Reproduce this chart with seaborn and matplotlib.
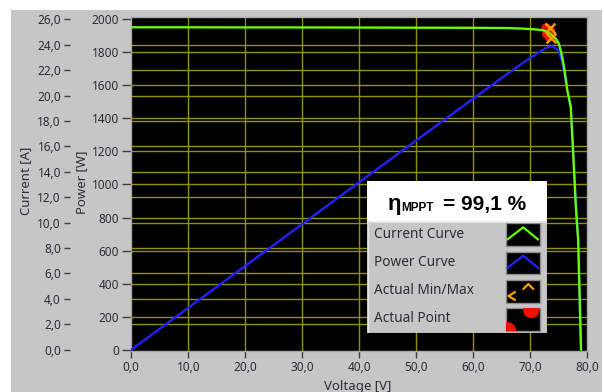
import matplotlib
matplotlib.use("Agg")
import matplotlib.pyplot as plt
import seaborn as sns
from matplotlib.patches import Rectangle, Circle

# ---------------- data ----------------
voltage = [0, 10, 20, 30, 40, 50, 60, 66, 68.5, 70.5, 72.2, 73.0, 73.75, 74.4,
           74.9, 75.3, 75.7, 76.1, 76.5, 77.1, 77.4, 77.7, 78.0, 78.4, 78.55, 78.7, 78.9]
current = [25.37, 25.37, 25.36, 25.36, 25.35, 25.34, 25.33, 25.31, 25.27, 25.22, 25.14,
           25.0, 24.77, 24.5, 24.2, 23.6, 22.8, 21.7, 20.4, 19.1, 16.5, 13.9, 11.2, 8.6,
           6.0, 3.4, 0.0]
power = [0, 254, 507, 761, 1014, 1267, 1520, 1670, 1731, 1778, 1815, 1830, 1836, 1826,
         1813, 1777, 1726, 1651, 1561, 1473, 1277, 1080, 874, 674, 471, 268, 0]

minmax_v = [73.5, 73.6]
minmax_i = [25.34, 24.53]
point_v = [72.8, 73.2, 73.5, 73.3, 72.9]
point_i = [25.3, 24.95, 25.1, 24.65, 24.85]

x_ticks = [0, 10, 20, 30, 40, 50, 60, 70, 80]
x_labels = ["0,0", "10,0", "20,0", "30,0", "40,0", "50,0", "60,0", "70,0", "80,0"]
p_ticks = [0, 200, 400, 600, 800, 1000, 1200, 1400, 1600, 1800, 2000]
p_labels = ["0", "200", "400", "600", "800", "1000", "1200", "1400", "1600", "1800", "2000"]
i_ticks = [0, 2, 4, 6, 8, 10, 12, 14, 16, 18, 20, 22, 24, 26]
i_labels = ["0,0", "2,0", "4,0", "6,0", "8,0", "10,0", "12,0", "14,0", "16,0",
            "18,0", "20,0", "22,0", "24,0", "26,0"]

legend_names = ["Current Curve", "Power Curve", "Actual Min/Max", "Actual Point"]
eta_value = "= 99,1 %"

# ---------------- style ----------------
sns.set_theme(style="ticks")
plt.rcParams["font.family"] = ["Noto Sans", "DejaVu Sans"]

W, H = 604, 392
GRAY = "#c6c6c6"
TXT = "#2d2d3a"
GRID = "#8f8f08"
GREEN = "#66ff00"
BLUE = "#2222ff"
ORANGE = "#ffa000"
RED = "#f01000"

fig = plt.figure(figsize=(W / 100, H / 100), dpi=100, facecolor="white")


def rect_px(x0, y0, x1, y1):
    return [x0 / W, 1 - y1 / H, (x1 - x0) / W, (y1 - y0) / H]


# gray panel background
fig.add_artist(Rectangle((11 / W, 0), (602 - 11) / W, 1 - 10 / H,
                         transform=fig.transFigure, facecolor=GRAY,
                         edgecolor="none", zorder=-10))

L, R, T, B = 131.3, 587.3, 16.7, 350.5
rect = rect_px(L, T, R, B)
pscale = 330.4 / 2000.0  # px per W
p_lo = -(B - 349.7) / pscale
p_hi = 2000 + (19.3 - T) / pscale
i_lo = p_lo * 26 / 2000
i_hi = p_hi * 26 / 2000
x_lo, x_hi = x_ticks[0], x_ticks[-1]

# current axis: background, ticks and grid
axc = fig.add_axes(rect, zorder=0)
axc.set_facecolor("black")
axc.set_xlim(x_lo, x_hi)
axc.set_ylim(i_lo, i_hi)
axc.set_xticks([])
axc.yaxis.set_ticks_position("left")
axc.spines["left"].set_position(("outward", 61.3 * 0.72))
axc.spines["left"].set_visible(False)
for s in ["top", "right", "bottom"]:
    axc.spines[s].set_visible(False)
axc.set_yticks(i_ticks)
axc.set_yticklabels(i_labels)
axc.tick_params(axis="y", which="major", length=4.3, width=1, color="#404040",
                pad=2.2, labelsize=8.5, labelcolor=TXT, direction="out")
axc.grid(False)
axc.hlines(i_ticks[1:-1], x_lo, x_hi, color=GRID, lw=1.0, zorder=1)

# power axis (main)
ax = fig.add_axes(rect, zorder=1)
ax.patch.set_visible(False)
ax.set_xlim(x_lo, x_hi)
ax.set_ylim(p_lo, p_hi)
ax.set_xticks(x_ticks)
ax.set_xticklabels(x_labels)
ax.set_yticks(p_ticks)
ax.set_yticklabels(p_labels)
ax.tick_params(axis="y", which="major", length=6.2, width=1, color="#404040",
               pad=2.4, labelsize=8.5, labelcolor=TXT)
ax.tick_params(axis="x", which="major", length=4.7, width=1, color="#404040",
               pad=3.0, labelsize=8.5, labelcolor=TXT)
ax.grid(False)
ax.hlines(p_ticks[1:-1], x_lo, x_hi, color=GRID, lw=1.0, zorder=1)
ax.vlines(x_ticks[1:-1], p_lo, p_hi, color=GRID, lw=1.0, zorder=1)
for s in ["top", "right", "left", "bottom"]:
    ax.spines[s].set_color("#a8a8a8")
    ax.spines[s].set_linewidth(1.0)

sns.lineplot(x=voltage, y=power, ax=ax, color=BLUE, linewidth=1.7, zorder=3)

ax.set_xlabel("Voltage [V]", fontsize=9.5, color=TXT, va="baseline")
ax.xaxis.set_label_coords((358 - L) / (R - L), (B - 390) / (B - T))
ax.set_ylabel("Power [W]", fontsize=9.5, color=TXT, va="center")
ax.yaxis.set_label_coords((81.5 - L) / (R - L), (B - 182) / (B - T))
axc.set_ylabel("Current [A]", fontsize=9.5, color=TXT, va="center")
axc.yaxis.set_label_coords((26 - L) / (R - L), (B - 181) / (B - T))

# current data overlay
axt = fig.add_axes(rect, zorder=2)
axt.patch.set_visible(False)
axt.set_xlim(x_lo, x_hi)
axt.set_ylim(i_lo, i_hi)
axt.axis("off")
sns.scatterplot(x=point_v, y=point_i, ax=axt, color=RED, s=50, edgecolor="none",
                zorder=2, legend=False)
sns.lineplot(x=voltage, y=current, ax=axt, color=GREEN, linewidth=1.7, zorder=3)
sns.scatterplot(x=minmax_v, y=minmax_i, ax=axt, marker="x", color=ORANGE, s=50,
                linewidth=1.7, zorder=4, legend=False)

# ---------------- legend panel ----------------
lx0, ly0, lx1, ly1 = 367.3, 180.7, 547.3, 333.3
lax = fig.add_axes(rect_px(lx0, ly0, lx1, ly1), zorder=5)
lax.set_xlim(0, lx1 - lx0)
lax.set_ylim(ly1 - ly0, 0)
lax.axis("off")
lw_, lh_ = lx1 - lx0, ly1 - ly0
lax.add_patch(Rectangle((0, 0), lw_, 41, facecolor="white", edgecolor="none"))
lax.add_patch(Rectangle((0, 41), lw_, lh_ - 41, facecolor=GRAY, edgecolor="none"))
lax.plot([0, lw_], [41, 41], color="#e8e8e8", lw=1.2)
lax.plot([lw_ - 0.5, lw_ - 0.5], [41, lh_], color="#9a9a9a", lw=1.0)
lax.plot([0, lw_], [lh_ - 0.5, lh_ - 0.5], color="#9a9a9a", lw=1.0)
lax.plot([0.5, 0.5], [41, lh_], color="#e4e4e4", lw=1.0)

lax.text(20.7, 29.6, "η", fontsize=16, fontweight="bold", color="black",
         family=["Liberation Sans", "DejaVu Sans"], va="baseline", ha="left")
lax.text(33.5, 30.0, "MPPT", fontsize=8.5, fontweight="bold", color="black",
         family=["Liberation Sans", "DejaVu Sans"], va="baseline", ha="left")
lax.text(76.0, 29.6, eta_value, fontsize=15, fontweight="bold", color="black",
         family=["Liberation Sans", "DejaVu Sans"], va="baseline", ha="left")

row_y = [53.3, 82.0, 110.0, 138.3]
sw_top = [42.6, 71.0, 99.3, 127.6]
sw_x0, sw_w, sw_h = 138.4, 34.3, 22.7
for name, yc in zip(legend_names, row_y):
    lax.text(7, yc, name, fontsize=9.8, color=TXT, va="center", ha="left")

swatches = []
for t in sw_top:
    r = Rectangle((sw_x0, t), sw_w, sw_h, facecolor="black", edgecolor="#8c8c8c", lw=1.0)
    lax.add_patch(r)
    swatches.append(r)

# current / power chevrons
for t, col in zip(sw_top[:2], [GREEN, BLUE]):
    lax.plot([sw_x0 + 1, sw_x0 + 17.5, sw_x0 + 33], [t + 16.7, t + 4, t + 16.7],
             color=col, lw=1.6, solid_capstyle="butt")
# min/max glyphs
t = sw_top[2]
lax.plot([sw_x0 + 9.3, sw_x0 + 2.8, sw_x0 + 9.3], [t + 12, t + 16, t + 20], color=ORANGE, lw=1.6)
lax.plot([sw_x0 + 17.6, sw_x0 + 22.6, sw_x0 + 27.6], [t + 9, t + 4, t + 9], color=ORANGE, lw=1.6)
# actual point glyphs
t = sw_top[3]
c1 = Circle((sw_x0 + 1.5, t + sw_h), 9, facecolor=RED, edgecolor="none")
c2 = Circle((sw_x0 + 25.5, t + 2), 8, facecolor=RED, edgecolor="none")
for c in (c1, c2):
    lax.add_patch(c)
    c.set_clip_path(swatches[3])

fig.savefig("out.png", dpi=100, facecolor="white")
